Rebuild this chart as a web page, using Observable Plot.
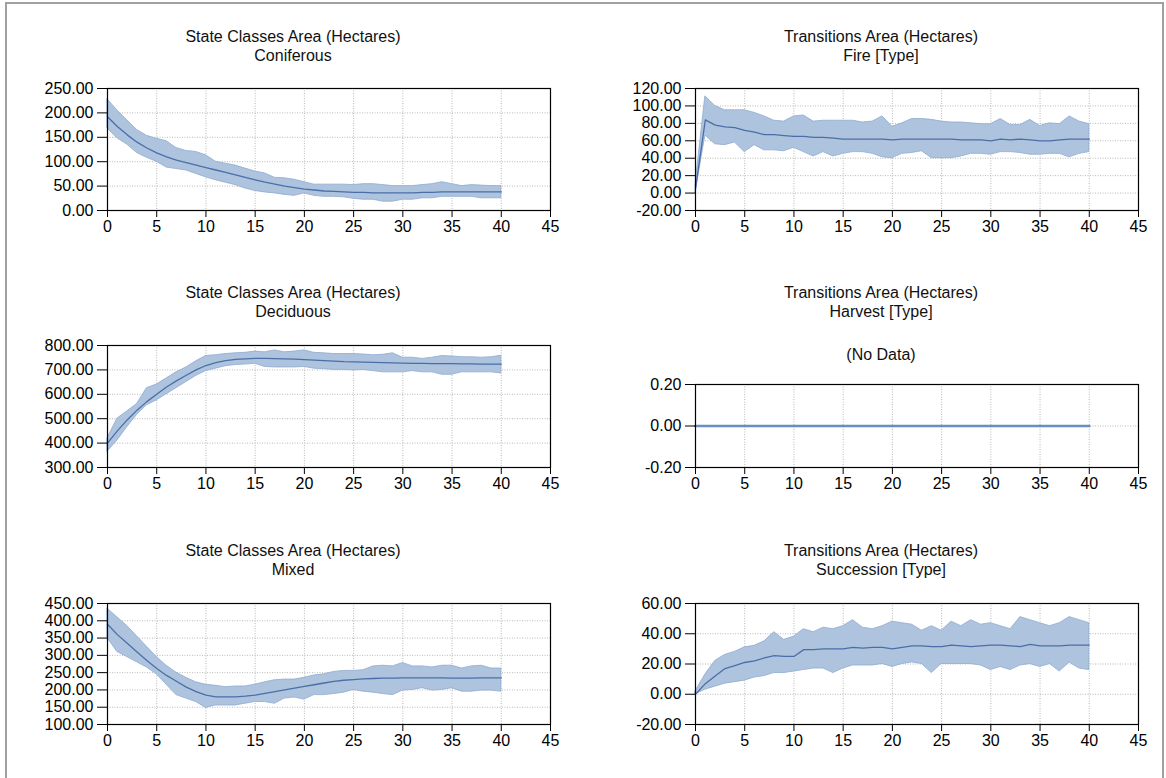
<!DOCTYPE html>
<html><head><meta charset="utf-8">
<script src="https://cdn.jsdelivr.net/npm/d3@7"></script>
<script src="https://cdn.jsdelivr.net/npm/@observablehq/plot@0.6"></script>
<style>
body{margin:0;background:#fff;}
#root{position:relative;width:1166px;height:778px;overflow:hidden;font-family:"Liberation Sans",Arial,sans-serif;background:#fff;}
#border{position:absolute;left:5px;top:2px;width:1155px;height:820px;border:2px solid #a0a0a0;}
.title{position:absolute;width:420px;text-align:center;font-size:16px;line-height:18.5px;color:#111;white-space:nowrap;}
</style></head><body><div id="root"><div id="border"></div></div>
<script>
const years = [0,1,2,3,4,5,6,7,8,9,10,11,12,13,14,15,16,17,18,19,20,21,22,23,24,25,26,27,28,29,30,31,32,33,34,35,36,37,38,39,40];
const xTicks = [0,5,10,15,20,25,30,35,40,45];

// Coniferous
const conMean = [192,172,155,140,128,118,110,103,98,93,88,83,78,73,68,63,58,54,50,47,44,42,40,39,38,37,37,36,36,36,36,36,37,37,38,38,38,38,38,38,38];
const conHi   = [228,205,185,165,153,147,142,128,122,120,113,100,96,92,86,80,76,67,66,63,58,53,53,53,53,52,54,54,52,50,50,50,52,54,58,54,50,52,51,50,50];
const conLo   = [168,148,135,118,108,100,88,85,82,75,68,62,57,52,45,40,37,35,32,30,35,30,28,28,27,24,22,22,18,18,22,22,25,25,28,28,28,28,25,25,25];
const conTicks = [0,50,100,150,200,250];

// Fire
const fireMean = [5,84,78,76,75,72,70,67,67,66,65,65,64,64,63,62,62,62,62,62,61,62,62,62,62,62,62,61,61,61,60,62,61,62,61,60,60,61,62,62,62];
const fireHi   = [10,111,100,95,95,95,92,88,83,82,88,89,82,83,83,83,83,81,82,88,76,80,85,85,84,82,81,81,80,79,79,85,78,78,84,77,80,79,88,82,79];
const fireLo   = [0,66,56,55,58,47,55,49,49,48,52,47,42,47,42,45,47,47,45,41,40,45,46,48,40,40,40,42,45,45,44,47,47,46,44,44,45,45,41,45,47];
const fireTicks = [-20,0,20,40,60,80,100,120];

// Deciduous
const decMean = [400,450,495,535,570,600,630,655,678,700,718,730,738,743,745,747,747,746,745,744,742,740,738,736,734,733,732,731,730,729,728,727,727,726,726,726,725,725,724,724,724];
const decHi   = [420,500,530,560,625,640,665,690,710,735,757,760,765,768,770,775,772,780,772,775,780,770,768,765,765,765,763,760,762,768,750,750,745,750,757,755,752,752,750,752,758];
const decLo   = [365,410,465,515,555,575,600,625,650,675,695,705,715,720,722,725,712,710,710,710,712,705,703,700,700,698,700,695,690,690,690,695,690,690,680,680,690,690,690,690,685];
const decTicks = [300,400,500,600,700,800];

// Harvest (no data)
const harMean = [0,0,0,0,0,0,0,0,0,0,0,0,0,0,0,0,0,0,0,0,0,0,0,0,0,0,0,0,0,0,0,0,0,0,0,0,0,0,0,0,0];
const harTicks = [-0.2,0,0.2];

// Mixed
const mixMean = [390,360,335,310,285,262,242,225,208,195,185,180,180,180,182,185,190,195,200,205,210,215,220,225,228,230,232,233,234,234,235,235,235,235,235,234,234,234,235,235,235];
const mixHi   = [435,410,385,355,325,295,270,250,235,222,215,212,208,210,210,215,222,228,230,230,235,242,245,252,255,255,257,268,270,268,278,268,268,265,270,270,262,268,270,262,262];
const mixLo   = [350,310,295,280,265,245,215,185,175,165,148,155,155,155,160,165,165,160,175,178,172,185,185,188,192,200,195,192,188,185,198,200,205,198,200,205,195,195,198,198,195];
const mixTicks = [100,150,200,250,300,350,400,450];

// Succession
const sucMean = [0,7,12,17,19,21,22,24,25.5,25,25,29.5,29.5,30,30,30,31,30.5,31,31,30,31,32,32,31.5,31.5,32.5,32,31.5,32,32.5,32.5,32,31.5,33,32,32,32,32.5,32.5,32.5];
const sucHi   = [2,13,22,26,28,31,32,35,41,36,38,43,41,44,43,45,49,44,43,45,48,47,46,42,45,42,48,45,49,46,47,45,43,51,49,47,45,47,51,49,47];
const sucLo   = [0,3,5,7,8,9,11,12,14,14,15,16,17,17,14,17,19,19,19,20,18,20,21,20,14,20,20,20,20,19,16,18,16,19,20,18,20,15,21,17,16];
const sucTicks = [-20,0,20,40,60];

const root = document.getElementById("root");

function addTitle(lines, cx, top) {
  const d = document.createElement("div");
  d.className = "title";
  d.style.left = (cx - 210) + "px";
  d.style.top = top + "px";
  d.innerHTML = lines.map(s => `<div>${s}</div>`).join("");
  root.appendChild(d);
}

function panel({left, top, height, yDomain, yTicks, mean, lo, hi, thick}) {
  const data = years.map((x, i) => ({x, m: mean[i], lo: lo[i], hi: hi[i]}));
  const ML = 75, MR = 20, MT = 10, MB = 35, W = 443;
  const p = Plot.plot({
    width: ML + W + MR, height: MT + height + MB,
    marginLeft: ML, marginRight: MR, marginTop: MT, marginBottom: MB,
    x: {domain: [0, 45], label: null},
    y: {domain: yDomain, label: null},
    style: {fontSize: "16px", fontFamily: '"Liberation Sans", Arial, sans-serif', color: "#000", background: "transparent", overflow: "visible"},
    marks: [
      Plot.gridX(xTicks, {stroke: "#b8b8b8", strokeOpacity: 1, strokeDasharray: "1,1.5"}),
      Plot.gridY(yTicks, {stroke: "#b8b8b8", strokeOpacity: 1, strokeDasharray: "1,1.5"}),
      Plot.areaY(data, {x: "x", y1: "lo", y2: "hi", fill: "#aec3de", fillOpacity: 1, stroke: "#8eaad0", strokeWidth: 0.8}),
      Plot.lineY(data, {x: "x", y: "m", stroke: thick ? "#6a8ec4" : "#4a6fa8", strokeWidth: thick ? 2.6 : 1.3}),
      Plot.frame({stroke: "#000", strokeWidth: 1.2}),
      Plot.axisX(xTicks, {tickSize: 7, tickPadding: 3, label: null, tickFormat: d => String(d), stroke: "#000"}),
      Plot.axisY(yTicks, {tickSize: 10, tickPadding: 4, label: null, tickFormat: d => d.toFixed(2), stroke: "#000"})
    ]
  });
  p.style.position = "absolute";
  p.style.left = (left - ML) + "px";
  p.style.top = (top - MT) + "px";
  root.appendChild(p);
}

const LX = 107, RX = 695;
const LC = 293, RC = 881;

addTitle(["State Classes Area (Hectares)", "Coniferous"], LC, 28);
panel({left: LX, top: 88, height: 122, yDomain: [0, 250], yTicks: conTicks, mean: conMean, lo: conLo, hi: conHi});

addTitle(["Transitions Area (Hectares)", "Fire [Type]"], RC, 28);
panel({left: RX, top: 88, height: 122, yDomain: [-20, 120], yTicks: fireTicks, mean: fireMean, lo: fireLo, hi: fireHi});

addTitle(["State Classes Area (Hectares)", "Deciduous"], LC, 284);
panel({left: LX, top: 345, height: 122, yDomain: [300, 800], yTicks: decTicks, mean: decMean, lo: decLo, hi: decHi});

addTitle(["Transitions Area (Hectares)", "Harvest [Type]"], RC, 284);
addTitle(["(No Data)"], RC, 346);
panel({left: RX, top: 384, height: 83, yDomain: [-0.2, 0.2], yTicks: harTicks, mean: harMean, lo: harMean, hi: harMean, thick: true});

addTitle(["State Classes Area (Hectares)", "Mixed"], LC, 542);
panel({left: LX, top: 603, height: 121, yDomain: [100, 450], yTicks: mixTicks, mean: mixMean, lo: mixLo, hi: mixHi});

addTitle(["Transitions Area (Hectares)", "Succession [Type]"], RC, 542);
panel({left: RX, top: 603, height: 121, yDomain: [-20, 60], yTicks: sucTicks, mean: sucMean, lo: sucLo, hi: sucHi});
</script>
</body></html>
